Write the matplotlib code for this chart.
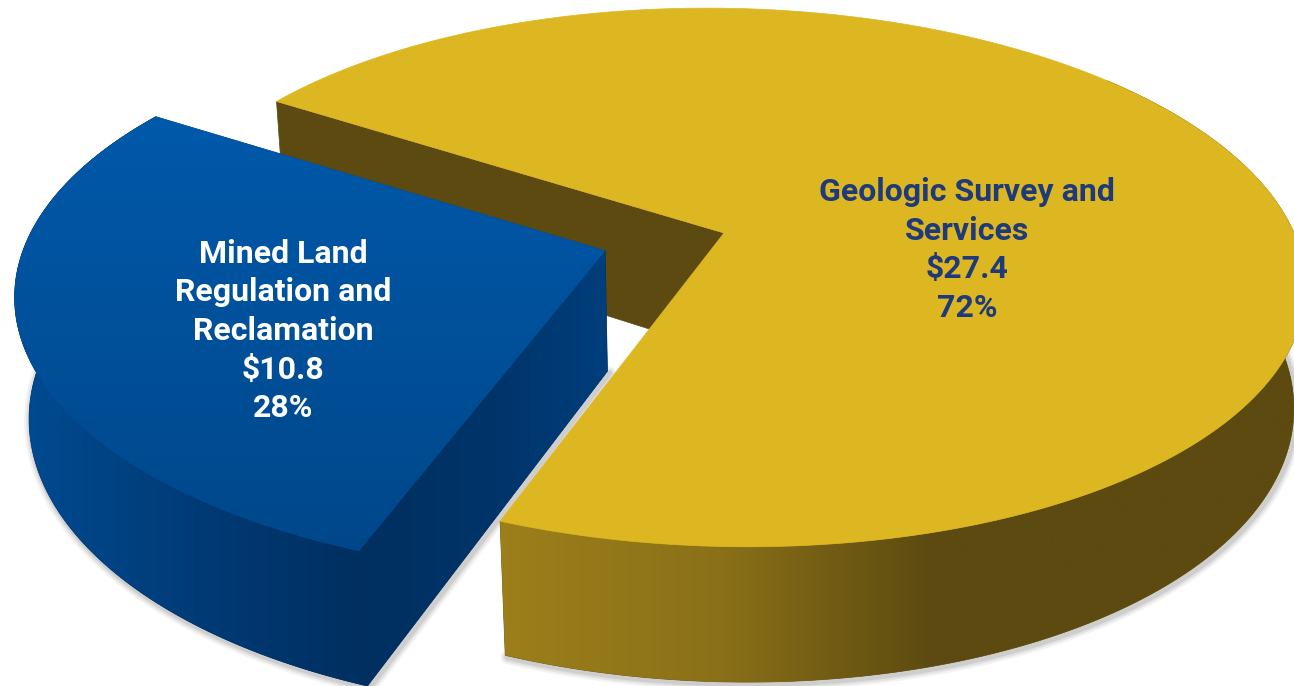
import numpy as np
import matplotlib
matplotlib.use('Agg')
import matplotlib.pyplot as plt
from matplotlib.colors import LinearSegmentedColormap
from matplotlib.patches import Polygon

categories = ['Mined Land\nRegulation and\nReclamation', 'Geologic Survey and\nServices']
amounts = [10.8, 27.4]
percents = ['28%', '72%']

# projection of the tilted pie onto the picture, in pixels
x0, y0 = 724, 233
sx, sy = 570, 262
shear = -20
persp = 0.165
depth = 122
depth_persp = 0.02
start = 146.8
explode = 0.219
blue_radius = 1.01
blue_turn = 0.5

plt.rcParams['font.family'] = ['Roboto', 'DejaVu Sans']

fig = plt.figure(figsize=(12.94, 6.86), dpi=100)
ax = fig.add_axes([0, 0, 1, 1])


def project(u, v, z=0):
    w = 1 + persp * v + depth_persp * z
    return x0 + (sx * u + shear * v) / w, y0 + (-sy * v + depth * z) / w


def arc(t1, t2, ou=0, ov=0, z=0, r=1):
    t = np.radians(np.linspace(t1, t2, 300))
    x, y = project(ou + r * np.cos(t), ov + r * np.sin(t), z)
    return np.column_stack([x, y])


z_count = [2]


def next_z():
    z_count[0] += 1
    return z_count[0]


def gradient(points, colors, vertical=False, rng=None):
    # fill a polygon with a colour ramp through a clipped image
    cmap = LinearSegmentedColormap.from_list('ramp', colors)
    lo = points.min(axis=0)
    hi = points.max(axis=0)
    if vertical:
        a, b = rng if rng else (lo[1], hi[1])
        ramp = np.clip((np.linspace(lo[1], hi[1], 512) - a) / (b - a), 0, 1)[:, None]
    else:
        a, b = rng if rng else (lo[0], hi[0])
        ramp = np.clip((np.linspace(lo[0], hi[0], 512) - a) / (b - a), 0, 1)[None, :]
    im = ax.imshow(ramp, cmap=cmap, vmin=0, vmax=1, extent=[lo[0], hi[0], hi[1], lo[1]],
                   aspect='auto', origin='upper', zorder=next_z())
    patch = Polygon(points, closed=True, transform=ax.transData, fc='none', ec='none')
    ax.add_patch(patch)
    im.set_clip_path(patch)


def flat(points, color):
    ax.add_patch(Polygon(points, closed=True, fc=color, ec=color, lw=0.5, zorder=next_z()))


def shadow(points):
    for lw, alpha in zip([10, 7, 4], [0.07, 0.10, 0.14]):
        ax.plot(points[:, 0] + 2, points[:, 1] + 2, color='#555555', lw=lw, alpha=alpha,
                solid_capstyle='round', zorder=1)


sweep = 360 * amounts[0] / sum(amounts)
end = start + sweep
mid = np.radians(start + sweep / 2)
ou, ov = explode * np.cos(mid), explode * np.sin(mid)
b1, b2 = start + blue_turn, end + blue_turn

# yellow slice: far inner wall, outer wall, top
yellow_top = np.vstack([[project(0, 0)], arc(end, start + 360)])
far_u, far_v = np.cos(np.radians(start)), np.sin(np.radians(start))
wall_far = np.array([project(far_u, far_v), project(0, 0), project(0, 0, 1), project(far_u, far_v, 1)])
flat(wall_far, '#5C4A10')
yellow_side = np.vstack([arc(end, 400), arc(end, 400, z=1)[::-1]])
shadow(arc(end, 400, z=1))
flat(yellow_side, '#6E5912')
gradient(yellow_side, ['#9C7F1B', '#8A7018', '#5C4A10', '#5C4A10'], rng=(505, 1150))
flat(yellow_top, '#DDB722')

# blue slice: outer wall, cut wall, top (flat layers under the ramps hide the seams)
blue_side = np.vstack([arc(b1, b2, ou, ov, r=blue_radius), arc(b1, b2, ou, ov, 1, blue_radius)[::-1]])
shadow(arc(b1 + 25, b2, ou, ov, 1, blue_radius))
corner = (ou + blue_radius * np.cos(np.radians(b2)), ov + blue_radius * np.sin(np.radians(b2)))
blue_cut = np.array([project(ou, ov), project(*corner), project(*corner, 1), project(ou, ov, 1)])
shadow(blue_cut[2:])
flat(blue_side, '#002F60')
flat(blue_cut, '#002F60')
gradient(blue_side, ['#004A90', '#003B76', '#002F60'], rng=(25, 365))
gradient(blue_cut, ['#002F60', '#003468', '#003E7C'], rng=(360, 607))
blue_top = np.vstack([[project(ou, ov)], arc(b1, b2, ou, ov, r=blue_radius)])
flat(blue_top, '#004C94')
gradient(blue_top, ['#0059AA', '#00478A'], vertical=True)

text_kw = dict(ha='center', va='center', fontsize=23, fontweight='bold', linespacing=1.36, zorder=50)
ax.text(283, 331, categories[0] + '\n$' + str(amounts[0]) + '\n' + percents[0],
        color='white', parse_math=False, **text_kw)
ax.text(967, 250, categories[1] + '\n$' + str(amounts[1]) + '\n' + percents[1],
        color='#1F3A7A', parse_math=False, **text_kw)

ax.set_xlim(0, 1294)
ax.set_ylim(686, 0)
ax.axis('off')
fig.savefig('out.png', dpi=100, facecolor='white')
